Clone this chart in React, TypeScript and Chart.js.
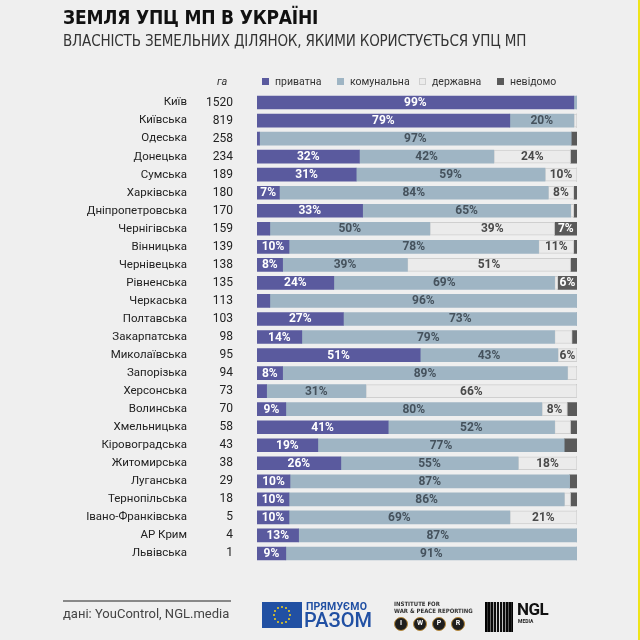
import React, { useEffect, useRef } from "react";
import { Chart, registerables } from "chart.js";

Chart.register(...registerables);

const regions = [
  "Київ", "Київська", "Одеська", "Донецька", "Сумська", "Харківська",
  "Дніпропетровська", "Чернігівська", "Вінницька", "Чернівецька", "Рівненська",
  "Черкаська", "Полтавська", "Закарпатська", "Миколаївська", "Запорізька",
  "Херсонська", "Волинська", "Хмельницька", "Кіровоградська", "Житомирська",
  "Луганська", "Тернопільська", "Івано-Франківська", "АР Крим", "Львівська",
];
const areas = [
  "1520", "819", "258", "234", "189", "180", "170", "159", "139", "138", "135",
  "113", "103", "98", "95", "94", "73", "70", "58", "43", "38", "29", "18", "5", "4", "1",
];
const privateShare = [99, 79, 0.8, 32, 31, 7, 33, 4, 10, 8, 24, 4, 27, 14, 51, 8, 3, 9, 41, 19, 26.2, 10.3, 10, 10, 13, 9];
const communalShare = [1, 20, 97.4, 42, 59, 84, 65, 50, 78, 39, 69, 96, 73, 79, 43, 89, 31, 80, 52, 77, 55.4, 87.4, 86, 69, 87, 91];
const stateShare = [0, 1, 0, 24, 10, 8, 1, 39, 11, 51, 1, 0, 0, 5.5, 6, 3, 66, 8, 5, 0, 18.4, 0, 2, 21, 0, 0];
const unknownShare = [0, 0, 1.8, 2, 0, 1, 1, 7, 1, 2, 6, 0, 0, 1.5, 0, 0, 0, 3, 2, 4, 0, 2.3, 2, 0, 0, 0];

const seriesNames = ["приватна", "комунальна", "державна", "невідомо"];
const seriesColors = ["#5a5a9e", "#9fb5c4", "#ebebeb", "#5a5a5a"];
const labelColors = ["#ffffff", "#45525d", "#4a4a4a", "#ffffff"];
const labelThreshold = 6;

const segmentLabels = {
  id: "segmentLabels",
  afterDatasetsDraw(chart: any) {
    const ctx = chart.ctx;
    ctx.save();
    ctx.font = "bold 12px Roboto";
    ctx.textAlign = "center";
    ctx.textBaseline = "middle";
    chart.data.datasets.forEach((ds: any, di: number) => {
      const meta = chart.getDatasetMeta(di);
      meta.data.forEach((el: any, i: number) => {
        const v = ds.data[i] as number;
        if (v < labelThreshold) return;
        const p = el.getCenterPoint();
        ctx.fillStyle = labelColors[di];
        ctx.fillText(Math.round(v) + "%", p.x, p.y + 0.5);
      });
    });
    ctx.restore();
  },
};

function ChartCanvas() {
  const ref = useRef<HTMLCanvasElement | null>(null);
  useEffect(() => {
    if (!ref.current) return;
    const values = [privateShare, communalShare, stateShare, unknownShare];
    const chart = new Chart(ref.current, {
      type: "bar",
      data: {
        labels: regions,
        datasets: values.map((d, i) => ({
          label: seriesNames[i],
          data: d,
          backgroundColor: seriesColors[i],
          borderColor: i === 2 ? "#cfcfcf" : seriesColors[i],
          borderWidth: i === 2 ? 1 : 0,
          borderSkipped: false,
          barThickness: 13,
        })),
      },
      options: {
        indexAxis: "y",
        responsive: false,
        maintainAspectRatio: false,
        animation: false,
        layout: { padding: { left: 57, right: 63, top: 93.5, bottom: 77.5 } },
        plugins: {
          legend: { display: false },
          tooltip: { enabled: false },
        },
        scales: {
          x: { stacked: true, min: 0, max: 100, display: false },
          y: {
            type: "category",
            stacked: true,
            position: "left",
            weight: 0,
            grid: { display: false, drawTicks: false },
            border: { display: false },
            ticks: {
              autoSkip: false,
              padding: 24,
              color: "#222",
              font: { family: "Roboto", size: 12 },
              callback: (_v: any, idx: number) => areas[idx],
            },
            afterFit: (s: any) => { s.width = 50; },
          },
          yName: {
            type: "category",
            labels: regions,
            position: "left",
            weight: 1,
            offset: true,
            grid: { display: false, drawTicks: false },
            border: { display: false },
            ticks: {
              autoSkip: false,
              padding: 20,
              color: "#222",
              font: { family: "Roboto", size: 11.5 },
            },
            afterFit: (s: any) => { s.width = 150; },
          },
        },
      } as any,
      plugins: [segmentLabels],
    });
    return () => chart.destroy();
  }, []);
  return <canvas ref={ref} width={640} height={640} style={{ position: "absolute", left: 0, top: 0 }} />;
}

const abs = (left: number, top: number, extra: React.CSSProperties = {}): React.CSSProperties => ({
  position: "absolute", left, top, whiteSpace: "nowrap", ...extra,
});

const legendX = [262, 337, 419, 497];

function EuFlag() {
  const stars = [];
  for (let i = 0; i < 12; i++) {
    const a = (i / 12) * Math.PI * 2;
    stars.push(
      <span key={i} style={abs(20 + 8 * Math.cos(a) - 1, 13 + 8 * Math.sin(a) - 1, { width: 2, height: 2, background: "#f3d21b", borderRadius: 1 })} />
    );
  }
  return <div style={abs(262, 602, { width: 40, height: 26, background: "#2150a3" })}>{stars}</div>;
}

export default function App() {
  return (
    <div style={{ position: "absolute", left: 0, top: 0, width: 640, height: 640, background: "#efefef", overflow: "hidden" }}>
      <ChartCanvas />
      <div style={abs(63, 8, { font: "bold 19px 'DejaVu Sans Condensed'", lineHeight: "19px", color: "#111", letterSpacing: -0.2 })}>
        ЗЕМЛЯ УПЦ МП В УКРАЇНІ
      </div>
      <div style={abs(63, 34, { font: "15px 'DejaVu Sans Condensed'", lineHeight: "15px", color: "#333", letterSpacing: -0.15 })}>
        ВЛАСНІСТЬ ЗЕМЕЛЬНИХ ДІЛЯНОК, ЯКИМИ КОРИСТУЄТЬСЯ УПЦ МП
      </div>
      <div style={abs(217, 76, { font: "italic 11px Roboto", lineHeight: "11px", color: "#333" })}>га</div>
      {seriesNames.map((n, i) => (
        <React.Fragment key={n}>
          <span style={abs(legendX[i], 78, {
            width: 7, height: 7, background: seriesColors[i], boxSizing: "border-box",
            border: i === 2 ? "1px solid #cfcfcf" : "none",
          })} />
          <span style={abs(legendX[i] + 13, 76, { font: "10.5px Roboto", lineHeight: "11px", color: "#333" })}>{n}</span>
        </React.Fragment>
      ))}
      <div style={abs(63, 600, { width: 168, height: 1.5, background: "#888" })} />
      <div style={abs(63, 607, { font: "13px Roboto", lineHeight: "13px", color: "#444" })}>дані: YouControl, NGL.media</div>
      <EuFlag />
      <div style={abs(306, 601, { font: "bold 10.5px Roboto", lineHeight: "11px", color: "#2150a3", letterSpacing: 0.2 })}>ПРЯМУЄМО</div>
      <div style={abs(304, 610, { font: "500 20px Roboto", lineHeight: "20px", color: "#2150a3" })}>РАЗОМ</div>
      <div style={abs(394, 601, { font: "bold 6px 'DejaVu Sans Condensed'", lineHeight: "6.5px", color: "#333" })}>
        INSTITUTE FOR<br />WAR &amp; PEACE REPORTING
      </div>
      {["I", "W", "P", "R"].map((l, i) => (
        <div key={l} style={abs(394 + i * 19, 617, {
          width: 14, height: 14, borderRadius: 7, boxSizing: "border-box", background: "#1e1e1e",
          border: "1.5px solid #b88a3c", color: "#fff", font: "bold 7px Roboto", lineHeight: "11px", textAlign: "center",
        })}>{l}</div>
      ))}
      <div style={abs(485, 602, {
        width: 28, height: 30,
        background: "linear-gradient(to right, rgba(0,0,0,0.95), rgba(0,0,0,0) 45%, rgba(0,0,0,0) 55%, rgba(0,0,0,0.95)), repeating-linear-gradient(to right, #111 0 1.5px, #e6e6e6 1.5px 3px)",
      })} />
      <div style={abs(517, 601, { font: "bold 17px Roboto", lineHeight: "17px", color: "#111", letterSpacing: -0.5 })}>NGL</div>
      <div style={abs(518, 619, { font: "bold 5px Roboto", lineHeight: "5px", color: "#222" })}>MEDIA</div>
      <div style={abs(638, 0, { width: 2, height: 640, background: "#efe41a" })} />
    </div>
  );
}
